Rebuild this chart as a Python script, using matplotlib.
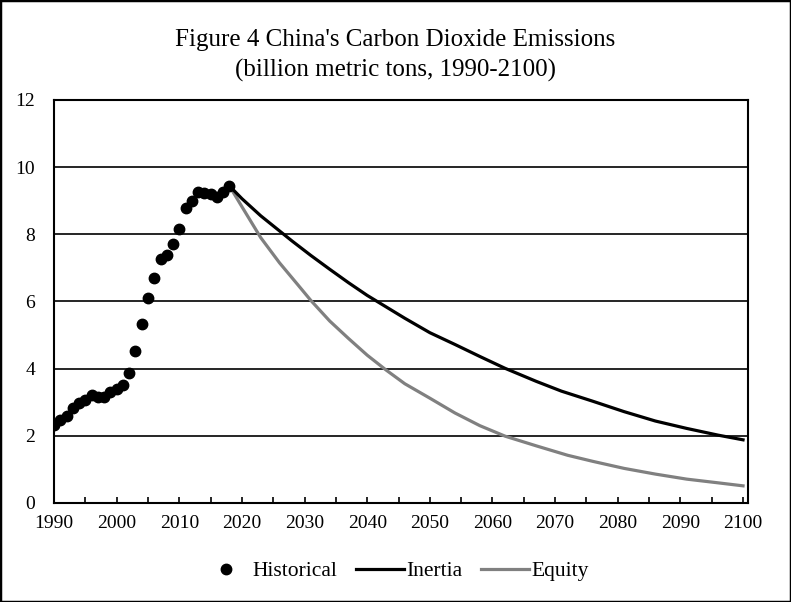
import matplotlib.pyplot as plt
from matplotlib.patches import Rectangle

plt.rcParams['font.family'] = ['Liberation Serif', 'DejaVu Serif']

# historical emissions, billion metric tons
hist_years = list(range(1990, 2019))
hist_values = [2.32, 2.48, 2.59, 2.82, 2.97, 3.07, 3.21, 3.16, 3.15, 3.31,
               3.38, 3.51, 3.87, 4.52, 5.33, 6.11, 6.70, 7.25, 7.37, 7.71,
               8.15, 8.79, 8.99, 9.26, 9.22, 9.19, 9.12, 9.27, 9.44]

# scenario projections
inertia_years = [2018, 2020, 2023, 2026, 2028, 2031, 2034, 2037, 2040, 2043,
                 2046, 2050, 2054, 2058, 2062, 2067, 2071, 2076, 2081, 2086,
                 2091, 2096, 2100]
inertia = [9.44, 9.06, 8.55, 8.10, 7.80, 7.37, 6.96, 6.56, 6.18, 5.84,
           5.50, 5.07, 4.72, 4.36, 4.01, 3.62, 3.33, 3.03, 2.72, 2.44,
           2.22, 2.02, 1.88]
equity_years = [2018, 2020, 2023, 2026, 2029, 2031, 2034, 2037, 2040, 2043,
                2046, 2050, 2054, 2058, 2062, 2067, 2072, 2076, 2081, 2086,
                2091, 2096, 2100]
equity = [9.44, 8.82, 7.90, 7.15, 6.48, 6.03, 5.42, 4.90, 4.40, 3.96,
          3.55, 3.12, 2.68, 2.30, 1.99, 1.70, 1.42, 1.24, 1.03, 0.86,
          0.71, 0.60, 0.51]

x_labels = [str(y) for y in range(1990, 2101, 10)]
y_ticks = [0, 2, 4, 6, 8, 10, 12]

fig = plt.figure(figsize=(7.91, 6.02), dpi=100)
ax = fig.add_axes([0.0683, 0.1645, 0.8774, 0.6695])

for y in y_ticks[1:]:
    ax.axhline(y, color='black', lw=1.2, zorder=1)

ax.plot(equity_years, equity, color='#808080', lw=2.3, label='Equity', zorder=2)
ax.plot(inertia_years, inertia, color='black', lw=2.3, label='Inertia', zorder=3)
ax.plot(hist_years, hist_values, 'o', color='black', markersize=7.5,
        label='Historical', zorder=4)

ax.set_xlim(1990, 2100.8)
ax.set_ylim(0, 12)
ax.set_yticks(y_ticks)
ax.set_xticks(range(1990, 2101, 10))
ax.set_xticklabels(x_labels)
ax.set_xticks(range(1995, 2100, 10), minor=True)
ax.tick_params(axis='x', which='both', direction='in', length=4, width=1.2,
               labelsize=14, pad=9, colors='black')
ax.tick_params(axis='y', length=0, labelsize=14, pad=13.5)
for s in ax.spines.values():
    s.set_linewidth(1.5)

fig.text(0.5, 0.934, "Figure 4 China's Carbon Dioxide Emissions",
         ha='center', va='center', fontsize=18)
fig.text(0.5, 0.883, "(billion metric tons, 1990-2100)",
         ha='center', va='center', fontsize=18)

handles, labels = ax.get_legend_handles_labels()
order = [2, 1, 0]
fig.legend([handles[i] for i in order], [labels[i] for i in order],
           loc='center', bbox_to_anchor=(0.5, 0.051), ncol=3, frameon=False,
           fontsize=15.5, handlelength=2.2, handletextpad=0.1, columnspacing=0.9)

fig.patches.append(Rectangle((0, 0), 1, 1, transform=fig.transFigure,
                             fill=False, edgecolor='black', lw=2.5))

fig.savefig('out.png', dpi=100)
